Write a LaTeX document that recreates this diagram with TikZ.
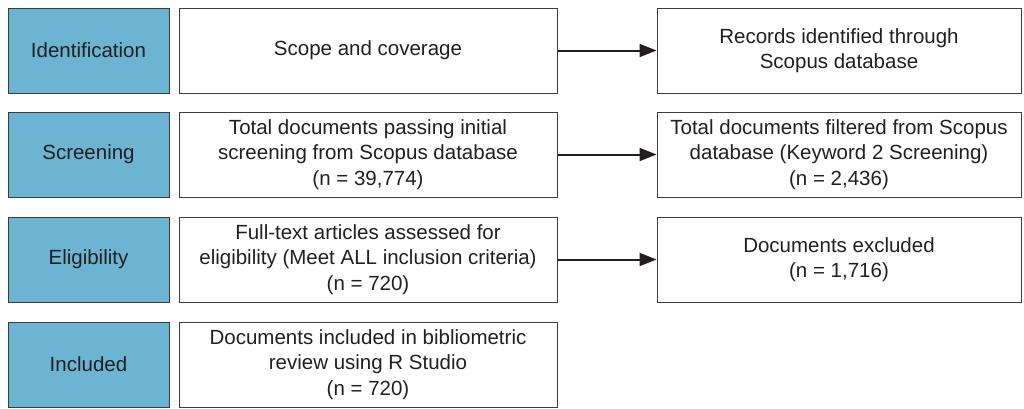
\documentclass[tikz,border=0pt]{standalone}
\usepackage{fontspec}
\setmainfont{Liberation Sans}
\usetikzlibrary{arrows.meta}
\definecolor{phaseblue}{RGB}{107,180,210}
\definecolor{edgegray}{RGB}{60,60,60}
\definecolor{textgray}{RGB}{35,31,32}
\tikzset{
    phase/.style={draw=edgegray, fill=phaseblue, line width=1pt, minimum width=161pt, minimum height=85pt, inner sep=0pt, text=textgray, font=\fontsize{20.5}{25.5}\selectfont},
    stepbox/.style={draw=edgegray, fill=white, line width=1pt, minimum height=85pt, inner sep=0pt, align=center, text=textgray, font=\fontsize{20.5}{25.5}\selectfont},
    flow/.style={-{Triangle[length=17pt,width=13pt]}, line width=2pt, draw=textgray}
}
\begin{document}
\begin{tikzpicture}[x=1pt, y=-1pt]
        \useasboundingbox (0,0) rectangle (1024,408);
        \node[phase] (ident) at (88.5,50.5) {Identification};
        \node[phase] (screen) at (88.5,154.5) {Screening};
        \node[phase] (elig) at (88.5,259.5) {Eligibility};
        \node[phase] (incl) at (88.5,364.5) {Included};
        \node[stepbox, minimum width=378pt] (scope) at (368,50.5) {Scope and coverage};
        \node[stepbox, minimum width=378pt] (passing) at (368,154.5) {Total documents passing initial\\screening from Scopus database\\(n = 39,774)};
        \node[stepbox, minimum width=378pt] (fulltext) at (368,259.5) {Full-text articles assessed for\\eligibility (Meet ALL inclusion criteria)\\(n = 720)};
        \node[stepbox, minimum width=378pt] (included) at (368,364.5) {Documents included in bibliometric\\review using R Studio\\(n = 720)};
        \node[stepbox, minimum width=364pt] (records) at (839,50.5) {Records identified through\\Scopus database};
        \node[stepbox, minimum width=364pt] (filtered) at (839,154.5) {Total documents filtered from Scopus\\database (Keyword 2 Screening)\\(n = 2,436)};
        \node[stepbox, minimum width=364pt] (excluded) at (839,259.5) {Documents excluded\\(n = 1,716)};
        \draw[flow] (scope) -- (records);
        \draw[flow] (passing) -- (filtered);
        \draw[flow] (fulltext) -- (excluded);
    \end{tikzpicture}
\end{document}
